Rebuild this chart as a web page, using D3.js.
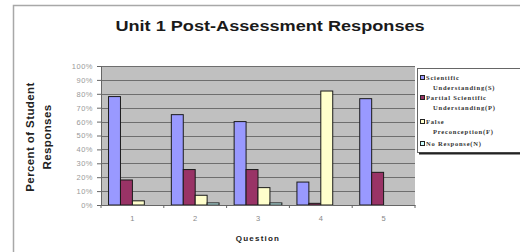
<!DOCTYPE html>
<html>
<head>
<meta charset="utf-8">
<script src="https://cdn.jsdelivr.net/npm/d3@7"></script>
<style>
  html, body { margin: 0; padding: 0; background: #fff; }
  svg { display: block; }
</style>
</head>
<body>
<div id="viz"></div>
<script>
const questions = ['1', '2', '3', '4', '5'];
const seriesNames = ['Scientific Understanding(S)', 'Partial Scientific Understanding(P)', 'False Preconception(F)', 'No Response(N)'];
const legendLines = [['Scientific', 'Understanding(S)'], ['Partial Scientific', 'Understanding(P)'], ['False', 'Preconception(F)'], ['No Response(N)']];
const scientific = [78, 65, 60, 16.5, 76.5];
const partial = [18, 25.5, 25.5, 1.2, 23.5];
const falsePre = [3, 7, 12.5, 82, 0];
const noResponse = [0, 1.5, 1.5, 0, 0];
const yTicks = [0, 10, 20, 30, 40, 50, 60, 70, 80, 90, 100];
const colors = ['#9999ff', '#993366', '#ffffcc', '#ccffff'];

const width = 520;
const height = 252;
const plot = { left: 101, top: 66, right: 415, bottom: 205 };

const svg = d3.select('#viz')
  .append('svg')
  .attr('width', width)
  .attr('height', height);

// outer chart frame
svg.append('path')
  .attr('d', `M13.5,${height} V5.5 H${width}`)
  .attr('fill', 'none')
  .attr('stroke', '#a8a8a8')
  .attr('stroke-width', 1.5);

// title, stretched a bit like the source picture
svg.append('text')
  .attr('transform', 'translate(270,31) scale(1.17,1)')
  .attr('text-anchor', 'middle')
  .style('font-family', 'Liberation Sans, Arial, sans-serif')
  .style('font-weight', 'bold')
  .style('font-size', '15.5px')
  .style('fill', '#1a1a1a')
  .text('Unit 1 Post-Assessment Responses');

const x = d3.scaleBand().domain(questions).range([plot.left, plot.right]).paddingInner(0.24).paddingOuter(0.12);
const xs = d3.scaleBand().domain(d3.range(seriesNames.length)).range([0, x.bandwidth()]);
const y = d3.scaleLinear().domain([0, 100]).range([plot.bottom, plot.top]);

svg.append('rect')
  .attr('x', plot.left)
  .attr('y', plot.top)
  .attr('width', plot.right - plot.left)
  .attr('height', plot.bottom - plot.top)
  .attr('fill', '#c0c0c0');

svg.append('g')
  .selectAll('line')
  .data(yTicks.filter(t => t > 0))
  .enter()
  .append('line')
  .attr('x1', plot.left)
  .attr('x2', plot.right)
  .attr('y1', d => Math.round(y(d)) + 0.5)
  .attr('y2', d => Math.round(y(d)) + 0.5)
  .attr('stroke', '#6e6e6e')
  .attr('stroke-width', 1);

const allSeries = [scientific, partial, falsePre, noResponse];
const barData = [];
questions.forEach((q, i) => {
  allSeries.forEach((s, j) => barData.push({ q, j, v: s[i] }));
});

svg.append('g')
  .selectAll('rect')
  .data(barData.filter(d => d.v > 0))
  .enter()
  .append('rect')
  .attr('x', d => x(d.q) + xs(d.j))
  .attr('y', d => y(d.v))
  .attr('width', xs.bandwidth())
  .attr('height', d => y(0) - y(d.v))
  .attr('fill', d => colors[d.j])
  .attr('stroke', '#1a1a1a')
  .attr('stroke-width', 1);

// axes
const yAxis = d3.axisLeft(y).tickValues(yTicks).tickFormat(d => d + '%').tickSize(4).tickPadding(4);
const gy = svg.append('g')
  .attr('transform', `translate(${plot.left},0)`)
  .call(yAxis);
gy.select('.domain').attr('stroke', '#666');
gy.selectAll('line').attr('stroke', '#666');
gy.selectAll('text')
  .style('font-family', 'Liberation Sans, Arial, sans-serif')
  .style('font-size', '7.5px')
  .style('letter-spacing', '0.5px')
  .style('fill', '#999');

const xAxis = d3.axisBottom(x).tickSize(0).tickPadding(11);
const gx = svg.append('g')
  .attr('transform', `translate(0,${plot.bottom})`)
  .call(xAxis);
gx.select('.domain').attr('stroke', '#666');
gx.selectAll('text')
  .style('font-family', 'Liberation Sans, Arial, sans-serif')
  .style('font-size', '7.5px')
  .style('fill', '#888');

// category separators below the axis
const step = (plot.right - plot.left) / questions.length;
svg.append('g')
  .selectAll('line')
  .data(d3.range(questions.length + 1))
  .enter()
  .append('line')
  .attr('x1', d => plot.left + d * step)
  .attr('x2', d => plot.left + d * step)
  .attr('y1', plot.bottom)
  .attr('y2', plot.bottom + 3)
  .attr('stroke', '#666');

svg.append('text')
  .attr('x', 258)
  .attr('y', 241)
  .attr('text-anchor', 'middle')
  .style('font-family', 'Liberation Sans, Arial, sans-serif')
  .style('font-weight', 'bold')
  .style('font-size', '8px')
  .style('letter-spacing', '1.2px')
  .style('fill', '#222')
  .text('Question');

const ylab = svg.append('text')
  .attr('transform', 'translate(0,137) rotate(-90)')
  .attr('text-anchor', 'middle')
  .style('font-family', 'Liberation Sans, Arial, sans-serif')
  .style('font-weight', 'bold')
  .style('font-size', '11.5px')
  .style('letter-spacing', '0.4px')
  .style('fill', '#222');
ylab.append('tspan').attr('x', 0).attr('y', 34).text('Percent of Student');
ylab.append('tspan').attr('x', 0).attr('y', 51).text('Responses');

// legend
const legend = svg.append('g').attr('transform', 'translate(417,68)');
legend.append('rect')
  .attr('x', 0.5)
  .attr('y', 0.5)
  .attr('width', 120)
  .attr('height', 84)
  .attr('fill', '#fff')
  .attr('stroke', '#666')
  .attr('stroke-width', 1);
legend.append('line')
  .attr('x1', 2).attr('x2', 120)
  .attr('y1', 85.5).attr('y2', 85.5)
  .attr('stroke', '#222')
  .attr('stroke-width', 2);

const entryY = [12, 32, 56, 78];
const item = legend.selectAll('g.item')
  .data(legendLines)
  .enter()
  .append('g')
  .attr('class', 'item')
  .attr('transform', (d, i) => `translate(3,${entryY[i]})`);
item.append('rect')
  .attr('x', 0.5)
  .attr('y', -4.5)
  .attr('width', 4)
  .attr('height', 4)
  .attr('fill', (d, i) => colors[i])
  .attr('stroke', '#222')
  .attr('stroke-width', 1);
item.each(function (lines) {
  const t = d3.select(this).append('text')
    .style('font-family', 'Liberation Serif, Times New Roman, serif')
    .style('font-weight', 'bold')
    .style('font-size', '6.5px')
    .style('letter-spacing', '0.8px')
    .style('fill', '#333');
  lines.forEach((ln, k) => {
    t.append('tspan')
      .attr('x', k === 0 ? 6 : 13)
      .attr('y', k * 10)
      .text(ln);
  });
});
</script>
</body>
</html>
